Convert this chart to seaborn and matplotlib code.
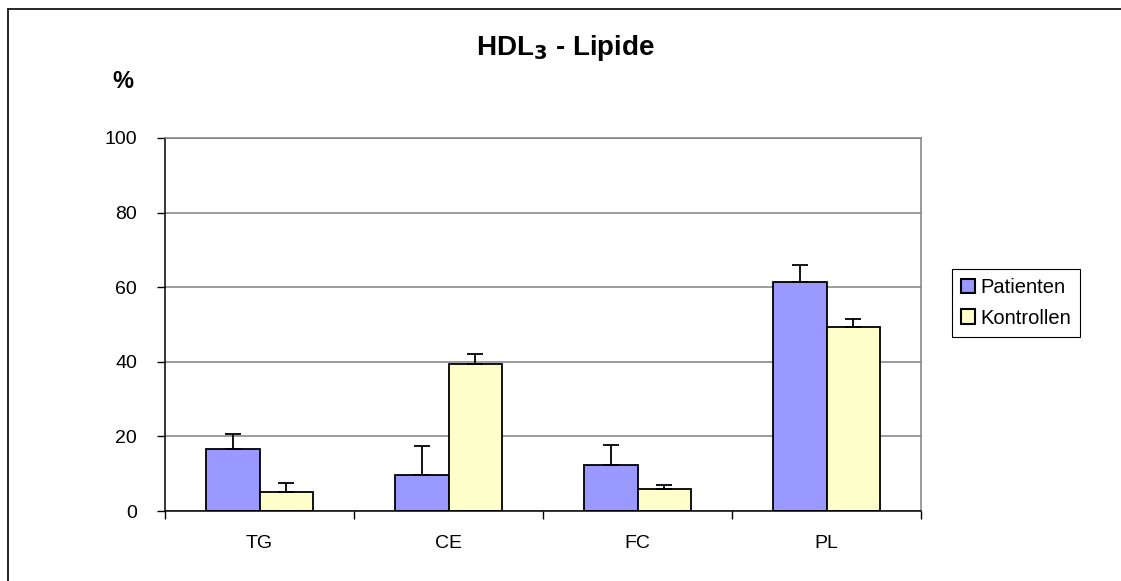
import matplotlib
matplotlib.use("Agg")
import matplotlib.pyplot as plt
import seaborn as sns
import pandas as pd
import numpy as np
from matplotlib.lines import Line2D

categories = ["TG", "CE", "FC", "PL"]
series = ["Patienten", "Kontrollen"]
patienten = [16.5, 9.6, 12.2, 61.5]
kontrollen = [5.1, 39.4, 6.0, 49.4]
patienten_err = [4.1, 7.7, 5.4, 4.4]
kontrollen_err = [2.3, 2.6, 1.0, 2.1]
yticks = [0, 20, 40, 60, 80, 100]
colors = ["#9999FF", "#FFFFCC"]

df = pd.DataFrame({
    "cat": categories * 2,
    "group": [series[0]] * 4 + [series[1]] * 4,
    "val": patienten + kontrollen,
    "err": patienten_err + kontrollen_err,
})

sns.set_theme(style="white")
plt.rcParams["font.family"] = ["Liberation Sans", "DejaVu Sans"]
plt.rcParams["text.color"] = "black"
plt.rcParams["xtick.color"] = "black"
plt.rcParams["ytick.color"] = "black"
plt.rcParams["xtick.labelcolor"] = "black"
plt.rcParams["ytick.labelcolor"] = "black"

fig = plt.figure(figsize=(11.21, 5.81), dpi=100)
ax = fig.add_axes([165 / 1121, 1 - 511 / 581, (921 - 165) / 1121, (511 - 138) / 581])

sns.barplot(data=df, x="cat", y="val", hue="group", palette=colors,
            order=categories, hue_order=series, errorbar=None,
            width=0.57, gap=0, edgecolor="black", linewidth=1.3,
            saturation=1, ax=ax, legend=True)

# error bars from the bar patches
bars = [p for p in ax.patches if p.get_height() > 0]
for i, p in enumerate(bars[:8]):
    g = i // 4
    c = i % 4
    err = (patienten_err if g == 0 else kontrollen_err)[c]
    xc = p.get_x() + p.get_width() / 2
    ax.errorbar([xc], [p.get_height()], yerr=[[0], [err]], fmt="none",
                ecolor="black", elinewidth=1.3, capsize=5.5, capthick=1.3,
                zorder=5)

ax.set_ylim(0, 100)
ax.set_xlim(-0.5, 3.5)
ax.set_yticks(yticks)
ax.set_yticklabels([str(v) for v in yticks], fontsize=14)
ax.set_xticks(range(4))
ax.set_xticklabels(categories, fontsize=14)
ax.set_xticks(np.arange(-0.5, 4.0, 1.0), minor=True)
ax.tick_params(axis="x", which="major", length=0, pad=17)
ax.tick_params(axis="x", which="minor", length=6, width=1, color="black", direction="out", bottom=True)
ax.tick_params(axis="y", which="major", length=6, width=1, color="black", direction="out", left=True, pad=14)
ax.set_xlabel("")
ax.set_ylabel("")
ax.yaxis.grid(True, color="#808080", linewidth=1.1)
ax.set_axisbelow(True)
for s in ["left", "bottom"]:
    ax.spines[s].set_color("black")
    ax.spines[s].set_linewidth(1.1)
for s in ["top", "right"]:
    ax.spines[s].set_color("#808080")
    ax.spines[s].set_linewidth(1.1)

leg = ax.legend(loc="center left", bbox_to_anchor=(952 / 1121, 1 - 303 / 581),
                bbox_transform=fig.transFigure, frameon=True, fancybox=False,
                edgecolor="black", framealpha=1, fontsize=14.5,
                handlelength=0.7, handleheight=0.7, handletextpad=0.25,
                borderpad=0.45, labelspacing=0.55, borderaxespad=0)
leg.get_frame().set_linewidth(0.8)
for h in leg.legend_handles:
    h.set_edgecolor("black")
    h.set_linewidth(1.5)
for t in leg.get_texts():
    t.set_color("black")

fig.text(566 / 1121, 1 - 48 / 581, r"HDL$_\mathbf{3}$ - Lipide", ha="center", va="center",
         fontsize=20, fontweight="bold", color="black")
fig.text(123 / 1121, 1 - 82 / 581, "%", ha="center", va="center",
         fontsize=17, fontweight="bold", color="black")

# outer chart frame (cropped on right and bottom)
fig.add_artist(Line2D([8 / 1121, 1.0], [1 - 9 / 581, 1 - 9 / 581],
                      transform=fig.transFigure, color="black", linewidth=1.2))
fig.add_artist(Line2D([8 / 1121, 8 / 1121], [1 - 9 / 581, 0.0],
                      transform=fig.transFigure, color="black", linewidth=1.2))

fig.savefig("out.png", dpi=100)
